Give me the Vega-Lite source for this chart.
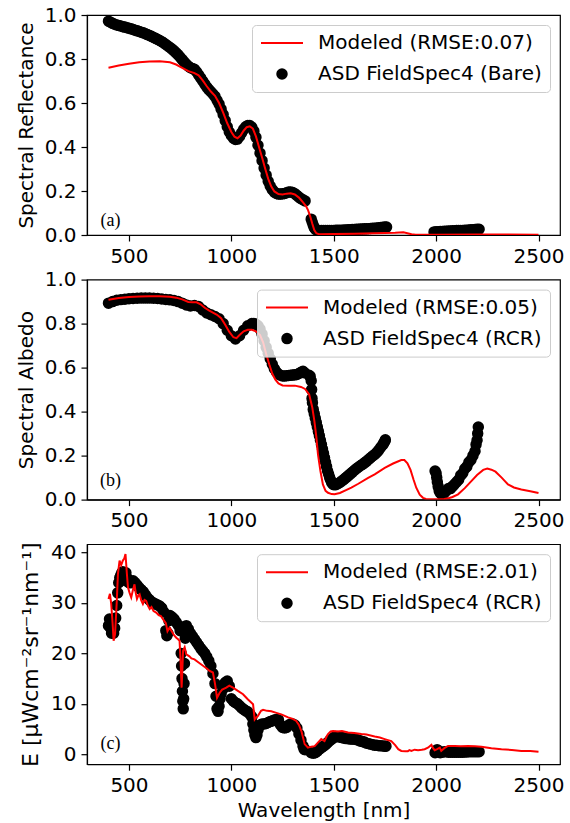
{
  "$schema": "https://vega.github.io/schema/vega-lite/v6.json",
  "padding": {"left": 15, "top": 4, "right": 5, "bottom": 5},
  "bounds": "flush",
  "spacing": 44.6,
  "config": {
    "font": "DejaVu Sans",
    "view": {"stroke": "black", "strokeWidth": 1.2},
    "axis": {
      "grid": false, "domainColor": "black", "domainWidth": 1.2,
      "tickColor": "black", "tickWidth": 1.2, "tickSize": 6,
      "labelFont": "DejaVu Sans", "labelFontSize": 20, "labelColor": "black", "labelPadding": 5,
      "labelFlush": false, "labelOverlap": false,
      "titleFont": "DejaVu Sans", "titleFontSize": 20, "titleFontWeight": "normal", "titleColor": "black", "titlePadding": 8
    },
    "legend": {
      "title": null, "orient": "top-right", "offset": 10,
      "labelFont": "DejaVu Sans", "labelFontSize": 20, "labelColor": "black", "labelLimit": 400,
      "padding": 8, "rowPadding": 11, "labelOffset": 14, "clipHeight": 20,
      "symbolStrokeWidth": 2, "symbolFillColor": "black",
      "fillColor": "rgba(255,255,255,0.8)", "strokeColor": "#cccccc", "cornerRadius": 4
    }
  },
  "datasets": {
    "obsA": [
      {"w":400,"v":0.972,"s":"o"},{"w":410,"v":0.967,"s":"o"},{"w":420,"v":0.962,"s":"o"},{"w":430,"v":0.958,"s":"o"},{"w":440,"v":0.955,"s":"o"},{"w":450,"v":0.952,"s":"o"},{"w":460,"v":0.950,"s":"o"},{"w":470,"v":0.947,"s":"o"},{"w":480,"v":0.945,"s":"o"},{"w":490,"v":0.942,"s":"o"},
      {"w":500,"v":0.940,"s":"o"},{"w":510,"v":0.937,"s":"o"},{"w":520,"v":0.934,"s":"o"},{"w":530,"v":0.931,"s":"o"},{"w":540,"v":0.928,"s":"o"},{"w":550,"v":0.925,"s":"o"},{"w":560,"v":0.922,"s":"o"},{"w":570,"v":0.919,"s":"o"},{"w":580,"v":0.915,"s":"o"},{"w":590,"v":0.911,"s":"o"},
      {"w":600,"v":0.907,"s":"o"},{"w":610,"v":0.903,"s":"o"},{"w":620,"v":0.898,"s":"o"},{"w":630,"v":0.894,"s":"o"},{"w":640,"v":0.889,"s":"o"},{"w":650,"v":0.884,"s":"o"},{"w":660,"v":0.879,"s":"o"},{"w":670,"v":0.873,"s":"o"},{"w":680,"v":0.866,"s":"o"},{"w":690,"v":0.859,"s":"o"},
      {"w":700,"v":0.852,"s":"o"},{"w":710,"v":0.845,"s":"o"},{"w":720,"v":0.837,"s":"o"},{"w":730,"v":0.828,"s":"o"},{"w":740,"v":0.819,"s":"o"},{"w":750,"v":0.808,"s":"o"},{"w":760,"v":0.797,"s":"o"},{"w":770,"v":0.786,"s":"o"},{"w":780,"v":0.776,"s":"o"},{"w":790,"v":0.767,"s":"o"},
      {"w":800,"v":0.760,"s":"o"},{"w":810,"v":0.757,"s":"o"},{"w":820,"v":0.753,"s":"o"},{"w":830,"v":0.742,"s":"o"},{"w":840,"v":0.728,"s":"o"},{"w":850,"v":0.714,"s":"o"},{"w":860,"v":0.700,"s":"o"},{"w":870,"v":0.686,"s":"o"},{"w":880,"v":0.672,"s":"o"},{"w":890,"v":0.661,"s":"o"},
      {"w":900,"v":0.651,"s":"o"},{"w":910,"v":0.641,"s":"o"},{"w":920,"v":0.630,"s":"o"},{"w":930,"v":0.612,"s":"o"},{"w":940,"v":0.595,"s":"o"},{"w":950,"v":0.572,"s":"o"},{"w":960,"v":0.548,"s":"o"},{"w":970,"v":0.520,"s":"o"},{"w":980,"v":0.492,"s":"o"},{"w":990,"v":0.468,"s":"o"},
      {"w":1000,"v":0.452,"s":"o"},{"w":1010,"v":0.440,"s":"o"},{"w":1020,"v":0.434,"s":"o"},{"w":1030,"v":0.436,"s":"o"},{"w":1040,"v":0.448,"s":"o"},{"w":1050,"v":0.464,"s":"o"},{"w":1060,"v":0.480,"s":"o"},{"w":1070,"v":0.492,"s":"o"},{"w":1080,"v":0.498,"s":"o"},{"w":1090,"v":0.498,"s":"o"},
      {"w":1100,"v":0.490,"s":"o"},{"w":1110,"v":0.472,"s":"o"},{"w":1120,"v":0.444,"s":"o"},{"w":1130,"v":0.408,"s":"o"},{"w":1140,"v":0.372,"s":"o"},{"w":1150,"v":0.338,"s":"o"},{"w":1160,"v":0.304,"s":"o"},{"w":1170,"v":0.272,"s":"o"},{"w":1180,"v":0.244,"s":"o"},{"w":1190,"v":0.222,"s":"o"},
      {"w":1200,"v":0.206,"s":"o"},{"w":1210,"v":0.195,"s":"o"},{"w":1220,"v":0.189,"s":"o"},{"w":1230,"v":0.186,"s":"o"},{"w":1240,"v":0.186,"s":"o"},{"w":1250,"v":0.187,"s":"o"},{"w":1260,"v":0.189,"s":"o"},{"w":1270,"v":0.192,"s":"o"},{"w":1280,"v":0.195,"s":"o"},{"w":1290,"v":0.196,"s":"o"},
      {"w":1300,"v":0.193,"s":"o"},{"w":1310,"v":0.188,"s":"o"},{"w":1320,"v":0.180,"s":"o"},{"w":1330,"v":0.172,"s":"o"},{"w":1340,"v":0.165,"s":"o"},{"w":1350,"v":0.160,"s":"o"},{"w":1360,"v":0.155,"s":"o"},
      {"w":1390,"v":0.072,"s":"o"},{"w":1395,"v":0.058,"s":"o"},{"w":1400,"v":0.044,"s":"o"},{"w":1405,"v":0.033,"s":"o"},{"w":1410,"v":0.026,"s":"o"},{"w":1420,"v":0.021,"s":"o"},{"w":1430,"v":0.020,"s":"o"},{"w":1440,"v":0.020,"s":"o"},{"w":1450,"v":0.020,"s":"o"},{"w":1460,"v":0.020,"s":"o"},
      {"w":1470,"v":0.021,"s":"o"},{"w":1480,"v":0.021,"s":"o"},{"w":1490,"v":0.021,"s":"o"},{"w":1500,"v":0.021,"s":"o"},{"w":1510,"v":0.022,"s":"o"},{"w":1520,"v":0.022,"s":"o"},{"w":1530,"v":0.022,"s":"o"},{"w":1540,"v":0.022,"s":"o"},{"w":1550,"v":0.023,"s":"o"},{"w":1560,"v":0.023,"s":"o"},
      {"w":1570,"v":0.024,"s":"o"},{"w":1580,"v":0.024,"s":"o"},{"w":1590,"v":0.025,"s":"o"},{"w":1600,"v":0.025,"s":"o"},{"w":1610,"v":0.026,"s":"o"},{"w":1620,"v":0.026,"s":"o"},{"w":1630,"v":0.027,"s":"o"},{"w":1640,"v":0.027,"s":"o"},{"w":1650,"v":0.028,"s":"o"},{"w":1660,"v":0.028,"s":"o"},
      {"w":1670,"v":0.029,"s":"o"},{"w":1680,"v":0.030,"s":"o"},{"w":1690,"v":0.031,"s":"o"},{"w":1700,"v":0.031,"s":"o"},{"w":1710,"v":0.032,"s":"o"},{"w":1720,"v":0.033,"s":"o"},{"w":1730,"v":0.034,"s":"o"},{"w":1740,"v":0.035,"s":"o"},{"w":1750,"v":0.036,"s":"o"},{"w":1758,"v":0.036,"s":"o"},
      {"w":1990,"v":0.014,"s":"o"},{"w":2000,"v":0.015,"s":"o"},{"w":2010,"v":0.015,"s":"o"},{"w":2020,"v":0.016,"s":"o"},{"w":2030,"v":0.016,"s":"o"},{"w":2040,"v":0.017,"s":"o"},{"w":2050,"v":0.017,"s":"o"},{"w":2060,"v":0.018,"s":"o"},{"w":2070,"v":0.018,"s":"o"},{"w":2080,"v":0.019,"s":"o"},
      {"w":2090,"v":0.019,"s":"o"},{"w":2100,"v":0.020,"s":"o"},{"w":2110,"v":0.020,"s":"o"},{"w":2120,"v":0.021,"s":"o"},{"w":2130,"v":0.021,"s":"o"},{"w":2140,"v":0.022,"s":"o"},{"w":2150,"v":0.022,"s":"o"},{"w":2160,"v":0.023,"s":"o"},{"w":2170,"v":0.024,"s":"o"},{"w":2180,"v":0.024,"s":"o"},
      {"w":2190,"v":0.025,"s":"o"},{"w":2200,"v":0.026,"s":"o"},{"w":2210,"v":0.026,"s":"o"}
    ],
    "modA": [
      {"w":400,"v":0.760,"s":"m"},{"w":450,"v":0.770,"s":"m"},{"w":500,"v":0.778,"s":"m"},{"w":550,"v":0.785,"s":"m"},{"w":600,"v":0.789,"s":"m"},{"w":650,"v":0.790,"s":"m"},{"w":700,"v":0.785,"s":"m"},{"w":730,"v":0.775,"s":"m"},{"w":760,"v":0.760,"s":"m"},{"w":790,"v":0.745,"s":"m"},
      {"w":820,"v":0.736,"s":"m"},{"w":840,"v":0.726,"s":"m"},{"w":860,"v":0.703,"s":"m"},{"w":880,"v":0.676,"s":"m"},{"w":900,"v":0.652,"s":"m"},{"w":920,"v":0.633,"s":"m"},{"w":940,"v":0.600,"s":"m"},{"w":960,"v":0.556,"s":"m"},{"w":980,"v":0.508,"s":"m"},{"w":1000,"v":0.468,"s":"m"},
      {"w":1015,"v":0.447,"s":"m"},{"w":1030,"v":0.440,"s":"m"},{"w":1045,"v":0.452,"s":"m"},{"w":1060,"v":0.474,"s":"m"},{"w":1075,"v":0.490,"s":"m"},{"w":1090,"v":0.494,"s":"m"},{"w":1105,"v":0.484,"s":"m"},{"w":1120,"v":0.448,"s":"m"},{"w":1135,"v":0.400,"s":"m"},{"w":1150,"v":0.352,"s":"m"},
      {"w":1165,"v":0.302,"s":"m"},{"w":1180,"v":0.255,"s":"m"},{"w":1195,"v":0.220,"s":"m"},{"w":1210,"v":0.198,"s":"m"},{"w":1230,"v":0.186,"s":"m"},{"w":1250,"v":0.184,"s":"m"},{"w":1270,"v":0.188,"s":"m"},{"w":1290,"v":0.190,"s":"m"},{"w":1310,"v":0.184,"s":"m"},{"w":1330,"v":0.170,"s":"m"},
      {"w":1350,"v":0.148,"s":"m"},{"w":1365,"v":0.130,"s":"m"},{"w":1375,"v":0.112,"s":"m"},{"w":1385,"v":0.085,"s":"m"},{"w":1395,"v":0.052,"s":"m"},{"w":1405,"v":0.022,"s":"m"},{"w":1415,"v":0.008,"s":"m"},{"w":1430,"v":0.003,"s":"m"},{"w":1500,"v":0.004,"s":"m"},{"w":1600,"v":0.006,"s":"m"},
      {"w":1700,"v":0.008,"s":"m"},{"w":1800,"v":0.010,"s":"m"},{"w":1840,"v":0.012,"s":"m"},{"w":1860,"v":0.008,"s":"m"},{"w":1880,"v":0.003,"s":"m"},{"w":1900,"v":0.001,"s":"m"},{"w":2000,"v":0.001,"s":"m"},{"w":2200,"v":0.002,"s":"m"},{"w":2350,"v":0.002,"s":"m"},{"w":2500,"v":0.001,"s":"m"}
    ],
    "obsB": [
      {"w":400,"v":0.893,"s":"o"},{"w":420,"v":0.900,"s":"o"},{"w":440,"v":0.906,"s":"o"},{"w":460,"v":0.909,"s":"o"},{"w":480,"v":0.911,"s":"o"},{"w":500,"v":0.913,"s":"o"},{"w":520,"v":0.914,"s":"o"},{"w":540,"v":0.915,"s":"o"},{"w":560,"v":0.916,"s":"o"},{"w":580,"v":0.916,"s":"o"},
      {"w":600,"v":0.916,"s":"o"},{"w":620,"v":0.915,"s":"o"},{"w":640,"v":0.914,"s":"o"},{"w":660,"v":0.912,"s":"o"},{"w":680,"v":0.910,"s":"o"},{"w":700,"v":0.908,"s":"o"},{"w":720,"v":0.905,"s":"o"},{"w":740,"v":0.900,"s":"o"},{"w":760,"v":0.893,"s":"o"},{"w":780,"v":0.885,"s":"o"},
      {"w":800,"v":0.880,"s":"o"},{"w":820,"v":0.882,"s":"o"},{"w":840,"v":0.878,"s":"o"},{"w":860,"v":0.862,"s":"o"},{"w":880,"v":0.848,"s":"o"},{"w":900,"v":0.840,"s":"o"},{"w":920,"v":0.832,"s":"o"},{"w":940,"v":0.822,"s":"o"},{"w":960,"v":0.800,"s":"o"},{"w":980,"v":0.770,"s":"o"},
      {"w":1000,"v":0.745,"s":"o"},{"w":1020,"v":0.730,"s":"o"},{"w":1040,"v":0.745,"s":"o"},{"w":1060,"v":0.770,"s":"o"},{"w":1080,"v":0.790,"s":"o"},{"w":1100,"v":0.800,"s":"o"},{"w":1110,"v":0.800,"s":"o"},{"w":1120,"v":0.797,"s":"o"},{"w":1130,"v":0.790,"s":"o"},{"w":1140,"v":0.775,"s":"o"},
      {"w":1150,"v":0.752,"s":"o"},{"w":1160,"v":0.722,"s":"o"},{"w":1170,"v":0.692,"s":"o"},{"w":1180,"v":0.665,"s":"o"},{"w":1190,"v":0.640,"s":"o"},{"w":1200,"v":0.615,"s":"o"},{"w":1210,"v":0.595,"s":"o"},{"w":1220,"v":0.580,"s":"o"},{"w":1230,"v":0.570,"s":"o"},{"w":1240,"v":0.565,"s":"o"},
      {"w":1250,"v":0.562,"s":"o"},{"w":1260,"v":0.562,"s":"o"},{"w":1270,"v":0.563,"s":"o"},{"w":1280,"v":0.564,"s":"o"},{"w":1290,"v":0.565,"s":"o"},{"w":1300,"v":0.566,"s":"o"},{"w":1310,"v":0.567,"s":"o"},{"w":1320,"v":0.569,"s":"o"},{"w":1330,"v":0.573,"s":"o"},{"w":1340,"v":0.579,"s":"o"},
      {"w":1350,"v":0.583,"s":"o"},{"w":1358,"v":0.576,"s":"o"},
      {"w":1380,"v":0.565,"s":"o"},{"w":1385,"v":0.56,"s":"o"},{"w":1390,"v":0.54,"s":"o"},{"w":1392,"v":0.50,"s":"o"},{"w":1394,"v":0.46,"s":"o"},{"w":1396,"v":0.44,"s":"o"},{"w":1400,"v":0.41,"s":"o"},{"w":1405,"v":0.39,"s":"o"},{"w":1410,"v":0.37,"s":"o"},{"w":1415,"v":0.35,"s":"o"},
      {"w":1420,"v":0.33,"s":"o"},{"w":1425,"v":0.31,"s":"o"},{"w":1430,"v":0.29,"s":"o"},{"w":1435,"v":0.27,"s":"o"},{"w":1440,"v":0.25,"s":"o"},{"w":1445,"v":0.23,"s":"o"},{"w":1450,"v":0.21,"s":"o"},{"w":1455,"v":0.19,"s":"o"},{"w":1460,"v":0.17,"s":"o"},{"w":1465,"v":0.15,"s":"o"},
      {"w":1470,"v":0.13,"s":"o"},{"w":1475,"v":0.115,"s":"o"},{"w":1480,"v":0.10,"s":"o"},{"w":1485,"v":0.088,"s":"o"},{"w":1490,"v":0.078,"s":"o"},{"w":1495,"v":0.071,"s":"o"},{"w":1500,"v":0.068,"s":"o"},{"w":1510,"v":0.068,"s":"o"},{"w":1520,"v":0.072,"s":"o"},{"w":1530,"v":0.078,"s":"o"},
      {"w":1540,"v":0.085,"s":"o"},{"w":1550,"v":0.092,"s":"o"},{"w":1560,"v":0.100,"s":"o"},{"w":1570,"v":0.108,"s":"o"},{"w":1580,"v":0.116,"s":"o"},{"w":1590,"v":0.124,"s":"o"},{"w":1600,"v":0.132,"s":"o"},{"w":1610,"v":0.140,"s":"o"},{"w":1620,"v":0.147,"s":"o"},{"w":1630,"v":0.154,"s":"o"},
      {"w":1640,"v":0.160,"s":"o"},{"w":1650,"v":0.167,"s":"o"},{"w":1660,"v":0.174,"s":"o"},{"w":1670,"v":0.182,"s":"o"},{"w":1680,"v":0.190,"s":"o"},{"w":1690,"v":0.198,"s":"o"},{"w":1700,"v":0.205,"s":"o"},{"w":1710,"v":0.214,"s":"o"},{"w":1720,"v":0.225,"s":"o"},{"w":1730,"v":0.238,"s":"o"},
      {"w":1740,"v":0.250,"s":"o"},{"w":1745,"v":0.258,"s":"o"},{"w":1750,"v":0.265,"s":"o"},{"w":1752,"v":0.272,"s":"o"},
      {"w":1995,"v":0.13,"s":"o"},{"w":2000,"v":0.12,"s":"o"},{"w":2003,"v":0.10,"s":"o"},{"w":2006,"v":0.08,"s":"o"},{"w":2010,"v":0.06,"s":"o"},{"w":2015,"v":0.04,"s":"o"},{"w":2020,"v":0.03,"s":"o"},{"w":2030,"v":0.02,"s":"o"},{"w":2040,"v":0.03,"s":"o"},{"w":2050,"v":0.04,"s":"o"},
      {"w":2060,"v":0.05,"s":"o"},{"w":2070,"v":0.05,"s":"o"},{"w":2080,"v":0.06,"s":"o"},{"w":2090,"v":0.07,"s":"o"},{"w":2100,"v":0.08,"s":"o"},{"w":2110,"v":0.09,"s":"o"},{"w":2120,"v":0.11,"s":"o"},{"w":2130,"v":0.12,"s":"o"},{"w":2140,"v":0.14,"s":"o"},{"w":2150,"v":0.15,"s":"o"},
      {"w":2160,"v":0.17,"s":"o"},{"w":2170,"v":0.18,"s":"o"},{"w":2180,"v":0.20,"s":"o"},{"w":2190,"v":0.22,"s":"o"},{"w":2195,"v":0.25,"s":"o"},{"w":2200,"v":0.27,"s":"o"},{"w":2203,"v":0.30,"s":"o"},{"w":2206,"v":0.33,"s":"o"}
    ],
    "modB": [
      {"w":400,"v":0.908,"s":"m"},{"w":450,"v":0.916,"s":"m"},{"w":500,"v":0.921,"s":"m"},{"w":550,"v":0.923,"s":"m"},{"w":600,"v":0.924,"s":"m"},{"w":650,"v":0.924,"s":"m"},{"w":700,"v":0.922,"s":"m"},{"w":730,"v":0.918,"s":"m"},{"w":760,"v":0.910,"s":"m"},{"w":790,"v":0.898,"s":"m"},
      {"w":810,"v":0.897,"s":"m"},{"w":830,"v":0.897,"s":"m"},{"w":850,"v":0.888,"s":"m"},{"w":870,"v":0.872,"s":"m"},{"w":890,"v":0.860,"s":"m"},{"w":910,"v":0.850,"s":"m"},{"w":930,"v":0.840,"s":"m"},{"w":950,"v":0.825,"s":"m"},{"w":970,"v":0.795,"s":"m"},{"w":990,"v":0.762,"s":"m"},
      {"w":1010,"v":0.738,"s":"m"},{"w":1025,"v":0.734,"s":"m"},{"w":1040,"v":0.748,"s":"m"},{"w":1060,"v":0.765,"s":"m"},{"w":1080,"v":0.772,"s":"m"},{"w":1100,"v":0.772,"s":"m"},{"w":1120,"v":0.765,"s":"m"},{"w":1140,"v":0.748,"s":"m"},{"w":1155,"v":0.715,"s":"m"},{"w":1170,"v":0.662,"s":"m"},
      {"w":1185,"v":0.615,"s":"m"},{"w":1200,"v":0.572,"s":"m"},{"w":1215,"v":0.545,"s":"m"},{"w":1230,"v":0.528,"s":"m"},{"w":1250,"v":0.519,"s":"m"},{"w":1280,"v":0.518,"s":"m"},{"w":1310,"v":0.518,"s":"m"},{"w":1340,"v":0.512,"s":"m"},{"w":1360,"v":0.503,"s":"m"},{"w":1380,"v":0.478,"s":"m"},
      {"w":1395,"v":0.420,"s":"m"},{"w":1405,"v":0.360,"s":"m"},{"w":1415,"v":0.285,"s":"m"},{"w":1423,"v":0.205,"s":"m"},{"w":1435,"v":0.130,"s":"m"},{"w":1447,"v":0.069,"s":"m"},{"w":1460,"v":0.040,"s":"m"},{"w":1472,"v":0.031,"s":"m"},{"w":1490,"v":0.025,"s":"m"},{"w":1504,"v":0.024,"s":"m"},
      {"w":1530,"v":0.030,"s":"m"},{"w":1560,"v":0.043,"s":"m"},{"w":1586,"v":0.054,"s":"m"},{"w":1620,"v":0.072,"s":"m"},{"w":1668,"v":0.099,"s":"m"},{"w":1700,"v":0.115,"s":"m"},{"w":1749,"v":0.144,"s":"m"},{"w":1790,"v":0.164,"s":"m"},{"w":1830,"v":0.180,"s":"m"},{"w":1845,"v":0.180,"s":"m"},
      {"w":1860,"v":0.165,"s":"m"},{"w":1875,"v":0.135,"s":"m"},{"w":1890,"v":0.090,"s":"m"},{"w":1903,"v":0.054,"s":"m"},{"w":1920,"v":0.022,"s":"m"},{"w":1936,"v":0.008,"s":"m"},{"w":1950,"v":0.003,"s":"m"},{"w":2000,"v":0.002,"s":"m"},{"w":2040,"v":0.003,"s":"m"},{"w":2060,"v":0.006,"s":"m"},
      {"w":2080,"v":0.012,"s":"m"},{"w":2107,"v":0.024,"s":"m"},{"w":2140,"v":0.052,"s":"m"},{"w":2172,"v":0.084,"s":"m"},{"w":2200,"v":0.112,"s":"m"},{"w":2230,"v":0.135,"s":"m"},{"w":2250,"v":0.141,"s":"m"},{"w":2270,"v":0.136,"s":"m"},{"w":2290,"v":0.127,"s":"m"},{"w":2320,"v":0.100,"s":"m"},
      {"w":2351,"v":0.069,"s":"m"},{"w":2380,"v":0.055,"s":"m"},{"w":2416,"v":0.046,"s":"m"},{"w":2460,"v":0.038,"s":"m"},{"w":2500,"v":0.030,"s":"m"}
    ],
    "obsC": [
      {"w":400,"v":25.5,"s":"o"},{"w":405,"v":26.8,"s":"o"},{"w":410,"v":25.0,"s":"o"},{"w":415,"v":24.0,"s":"o"},{"w":420,"v":25.0,"s":"o"},{"w":425,"v":24.0,"s":"o"},{"w":430,"v":25.0,"s":"o"},{"w":435,"v":27.0,"s":"o"},{"w":440,"v":29.5,"s":"o"},{"w":445,"v":32.0,"s":"o"},
      {"w":450,"v":34.0,"s":"o"},{"w":455,"v":35.0,"s":"o"},{"w":460,"v":35.5,"s":"o"},{"w":465,"v":36.0,"s":"o"},{"w":470,"v":36.2,"s":"o"},{"w":475,"v":35.5,"s":"o"},{"w":480,"v":34.5,"s":"o"},{"w":485,"v":36.0,"s":"o"},{"w":490,"v":35.0,"s":"o"},{"w":495,"v":34.2,"s":"o"},
      {"w":500,"v":34.0,"s":"o"},{"w":510,"v":34.0,"s":"o"},{"w":520,"v":34.4,"s":"o"},{"w":530,"v":34.0,"s":"o"},{"w":540,"v":33.5,"s":"o"},{"w":550,"v":33.0,"s":"o"},{"w":560,"v":32.6,"s":"o"},{"w":570,"v":32.2,"s":"o"},{"w":580,"v":31.6,"s":"o"},{"w":590,"v":31.0,"s":"o"},
      {"w":600,"v":30.6,"s":"o"},{"w":610,"v":30.2,"s":"o"},{"w":620,"v":30.0,"s":"o"},{"w":630,"v":29.8,"s":"o"},{"w":640,"v":29.6,"s":"o"},{"w":650,"v":29.4,"s":"o"},{"w":660,"v":29.0,"s":"o"},{"w":670,"v":28.2,"s":"o"},{"w":680,"v":24.5,"s":"o"},{"w":685,"v":23.5,"s":"o"},
      {"w":690,"v":24.0,"s":"o"},{"w":695,"v":26.5,"s":"o"},{"w":700,"v":27.5,"s":"o"},{"w":710,"v":27.2,"s":"o"},{"w":720,"v":26.8,"s":"o"},{"w":730,"v":26.2,"s":"o"},{"w":740,"v":25.6,"s":"o"},{"w":750,"v":24.5,"s":"o"},{"w":755,"v":20.0,"s":"o"},{"w":757,"v":17.5,"s":"o"},
      {"w":759,"v":15.0,"s":"o"},{"w":761,"v":12.5,"s":"o"},{"w":763,"v":10.5,"s":"o"},{"w":765,"v":9.0,"s":"o"},{"w":767,"v":11.0,"s":"o"},{"w":769,"v":14.0,"s":"o"},{"w":771,"v":18.0,"s":"o"},{"w":775,"v":23.0,"s":"o"},{"w":780,"v":25.5,"s":"o"},{"w":790,"v":24.8,"s":"o"},
      {"w":800,"v":24.0,"s":"o"},{"w":810,"v":23.4,"s":"o"},{"w":820,"v":22.8,"s":"o"},{"w":830,"v":22.2,"s":"o"},{"w":840,"v":21.6,"s":"o"},{"w":850,"v":21.0,"s":"o"},{"w":860,"v":20.5,"s":"o"},{"w":870,"v":20.0,"s":"o"},{"w":880,"v":19.3,"s":"o"},{"w":890,"v":18.5,"s":"o"},
      {"w":900,"v":17.5,"s":"o"},{"w":910,"v":16.0,"s":"o"},{"w":920,"v":14.0,"s":"o"},{"w":925,"v":11.5,"s":"o"},{"w":930,"v":9.0,"s":"o"},{"w":935,"v":8.5,"s":"o"},{"w":940,"v":9.5,"s":"o"},{"w":945,"v":11.0,"s":"o"},{"w":950,"v":12.0,"s":"o"},{"w":960,"v":13.0,"s":"o"},
      {"w":970,"v":14.2,"s":"o"},{"w":980,"v":14.5,"s":"o"},{"w":990,"v":13.5,"s":"o"},{"w":1000,"v":11.0,"s":"o"},{"w":1010,"v":10.5,"s":"o"},{"w":1020,"v":10.2,"s":"o"},{"w":1030,"v":10.0,"s":"o"},{"w":1040,"v":9.6,"s":"o"},{"w":1050,"v":9.2,"s":"o"},{"w":1060,"v":8.9,"s":"o"},
      {"w":1070,"v":8.6,"s":"o"},{"w":1080,"v":8.4,"s":"o"},{"w":1090,"v":8.0,"s":"o"},{"w":1100,"v":7.4,"s":"o"},{"w":1105,"v":6.0,"s":"o"},{"w":1110,"v":4.8,"s":"o"},{"w":1115,"v":3.8,"s":"o"},{"w":1120,"v":3.3,"s":"o"},{"w":1125,"v":3.8,"s":"o"},{"w":1130,"v":4.8,"s":"o"},
      {"w":1135,"v":5.5,"s":"o"},{"w":1140,"v":5.8,"s":"o"},{"w":1150,"v":6.0,"s":"o"},{"w":1160,"v":6.0,"s":"o"},{"w":1170,"v":6.1,"s":"o"},{"w":1180,"v":6.3,"s":"o"},{"w":1190,"v":6.5,"s":"o"},{"w":1200,"v":6.6,"s":"o"},{"w":1210,"v":6.8,"s":"o"},{"w":1220,"v":6.9,"s":"o"},
      {"w":1230,"v":6.8,"s":"o"},{"w":1240,"v":5.8,"s":"o"},{"w":1250,"v":5.3,"s":"o"},{"w":1260,"v":5.2,"s":"o"},{"w":1270,"v":5.3,"s":"o"},{"w":1280,"v":5.8,"s":"o"},{"w":1290,"v":6.0,"s":"o"},{"w":1300,"v":6.0,"s":"o"},{"w":1310,"v":5.8,"s":"o"},{"w":1320,"v":5.2,"s":"o"},
      {"w":1330,"v":4.0,"s":"o"},{"w":1340,"v":2.8,"s":"o"},{"w":1350,"v":1.6,"s":"o"},{"w":1355,"v":1.0,"s":"o"},{"w":1360,"v":0.9,"s":"o"},
      {"w":1390,"v":0.3,"s":"o"},{"w":1400,"v":0.2,"s":"o"},{"w":1410,"v":0.3,"s":"o"},{"w":1420,"v":0.6,"s":"o"},{"w":1430,"v":1.0,"s":"o"},{"w":1440,"v":1.3,"s":"o"},{"w":1450,"v":1.6,"s":"o"},{"w":1460,"v":1.9,"s":"o"},{"w":1470,"v":2.3,"s":"o"},{"w":1480,"v":2.7,"s":"o"},
      {"w":1490,"v":3.0,"s":"o"},{"w":1500,"v":3.3,"s":"o"},{"w":1510,"v":3.5,"s":"o"},{"w":1520,"v":3.5,"s":"o"},{"w":1530,"v":3.4,"s":"o"},{"w":1540,"v":3.3,"s":"o"},{"w":1550,"v":3.2,"s":"o"},{"w":1560,"v":3.1,"s":"o"},{"w":1570,"v":3.1,"s":"o"},{"w":1580,"v":3.0,"s":"o"},
      {"w":1590,"v":3.0,"s":"o"},{"w":1600,"v":3.0,"s":"o"},{"w":1610,"v":2.9,"s":"o"},{"w":1620,"v":2.8,"s":"o"},{"w":1630,"v":2.6,"s":"o"},{"w":1640,"v":2.5,"s":"o"},{"w":1650,"v":2.4,"s":"o"},{"w":1660,"v":2.2,"s":"o"},{"w":1670,"v":2.1,"s":"o"},{"w":1680,"v":2.0,"s":"o"},
      {"w":1690,"v":1.9,"s":"o"},{"w":1700,"v":1.8,"s":"o"},{"w":1710,"v":1.8,"s":"o"},{"w":1720,"v":1.7,"s":"o"},{"w":1730,"v":1.7,"s":"o"},{"w":1740,"v":1.65,"s":"o"},{"w":1750,"v":1.6,"s":"o"},{"w":1755,"v":1.6,"s":"o"},
      {"w":1995,"v":0.3,"s":"o"},{"w":2000,"v":0.6,"s":"o"},{"w":2005,"v":0.9,"s":"o"},{"w":2010,"v":0.5,"s":"o"},{"w":2020,"v":0.3,"s":"o"},{"w":2030,"v":0.4,"s":"o"},{"w":2040,"v":0.5,"s":"o"},{"w":2050,"v":0.5,"s":"o"},{"w":2060,"v":0.4,"s":"o"},{"w":2070,"v":0.4,"s":"o"},
      {"w":2080,"v":0.4,"s":"o"},{"w":2090,"v":0.4,"s":"o"},{"w":2100,"v":0.4,"s":"o"},{"w":2110,"v":0.4,"s":"o"},{"w":2120,"v":0.4,"s":"o"},{"w":2130,"v":0.4,"s":"o"},{"w":2140,"v":0.45,"s":"o"},{"w":2150,"v":0.45,"s":"o"},{"w":2160,"v":0.5,"s":"o"},{"w":2170,"v":0.5,"s":"o"},
      {"w":2180,"v":0.5,"s":"o"},{"w":2190,"v":0.5,"s":"o"},{"w":2200,"v":0.5,"s":"o"},{"w":2210,"v":0.5,"s":"o"}
    ],
    "modC": [
      {"w":400,"v":30.8,"s":"m"},{"w":407,"v":31.8,"s":"m"},{"w":413,"v":29.9,"s":"m"},{"w":420,"v":26.0,"s":"m"},{"w":425,"v":22.5,"s":"m"},{"w":432,"v":23.8,"s":"m"},{"w":440,"v":30.0,"s":"m"},{"w":446,"v":35.7,"s":"m"},{"w":454,"v":38.4,"s":"m"},{"w":462,"v":37.5,"s":"m"},
      {"w":470,"v":38.4,"s":"m"},{"w":477,"v":38.8,"s":"m"},{"w":483,"v":39.7,"s":"m"},{"w":490,"v":35.7,"s":"m"},{"w":495,"v":33.1,"s":"m"},{"w":503,"v":32.0,"s":"m"},{"w":511,"v":31.1,"s":"m"},{"w":519,"v":32.5,"s":"m"},{"w":527,"v":33.7,"s":"m"},{"w":533,"v":32.0,"s":"m"},
      {"w":539,"v":30.8,"s":"m"},{"w":546,"v":31.5,"s":"m"},{"w":552,"v":31.7,"s":"m"},{"w":560,"v":30.5,"s":"m"},{"w":568,"v":29.8,"s":"m"},{"w":576,"v":30.6,"s":"m"},{"w":584,"v":30.4,"s":"m"},{"w":592,"v":29.5,"s":"m"},{"w":601,"v":28.8,"s":"m"},{"w":610,"v":29.2,"s":"m"},
      {"w":620,"v":28.4,"s":"m"},{"w":633,"v":28.1,"s":"m"},{"w":645,"v":27.6,"s":"m"},{"w":656,"v":27.4,"s":"m"},{"w":666,"v":26.8,"s":"m"},{"w":680,"v":26.0,"s":"m"},{"w":688,"v":24.4,"s":"m"},{"w":698,"v":25.1,"s":"m"},{"w":710,"v":24.3,"s":"m"},{"w":720,"v":23.6,"s":"m"},
      {"w":731,"v":23.1,"s":"m"},{"w":740,"v":22.8,"s":"m"},{"w":747,"v":22.5,"s":"m"},{"w":752,"v":18.5,"s":"m"},{"w":757,"v":13.2,"s":"m"},{"w":760,"v":16.0,"s":"m"},{"w":764,"v":20.5,"s":"m"},{"w":772,"v":21.2,"s":"m"},{"w":780,"v":19.8,"s":"m"},{"w":795,"v":19.4,"s":"m"},
      {"w":805,"v":19.0,"s":"m"},{"w":820,"v":18.8,"s":"m"},{"w":840,"v":18.2,"s":"m"},{"w":860,"v":17.6,"s":"m"},{"w":880,"v":17.0,"s":"m"},{"w":894,"v":16.5,"s":"m"},{"w":910,"v":16.2,"s":"m"},{"w":920,"v":14.0,"s":"m"},{"w":930,"v":11.2,"s":"m"},{"w":943,"v":12.2,"s":"m"},
      {"w":955,"v":12.8,"s":"m"},{"w":975,"v":13.2,"s":"m"},{"w":990,"v":13.6,"s":"m"},{"w":1008,"v":13.2,"s":"m"},{"w":1030,"v":12.6,"s":"m"},{"w":1057,"v":11.9,"s":"m"},{"w":1080,"v":10.9,"s":"m"},{"w":1106,"v":9.9,"s":"m"},{"w":1114,"v":6.9,"s":"m"},{"w":1122,"v":7.3,"s":"m"},
      {"w":1130,"v":7.6,"s":"m"},{"w":1145,"v":8.6,"s":"m"},{"w":1155,"v":8.8,"s":"m"},{"w":1175,"v":8.6,"s":"m"},{"w":1195,"v":8.5,"s":"m"},{"w":1220,"v":8.2,"s":"m"},{"w":1244,"v":7.9,"s":"m"},{"w":1277,"v":7.3,"s":"m"},{"w":1300,"v":7.0,"s":"m"},{"w":1317,"v":6.6,"s":"m"},
      {"w":1330,"v":5.8,"s":"m"},{"w":1342,"v":4.6,"s":"m"},{"w":1358,"v":2.0,"s":"m"},{"w":1374,"v":1.3,"s":"m"},{"w":1390,"v":1.5,"s":"m"},{"w":1407,"v":1.6,"s":"m"},{"w":1425,"v":2.4,"s":"m"},{"w":1439,"v":3.0,"s":"m"},{"w":1455,"v":2.6,"s":"m"},{"w":1465,"v":3.5,"s":"m"},
      {"w":1472,"v":4.0,"s":"m"},{"w":1485,"v":4.5,"s":"m"},{"w":1497,"v":4.6,"s":"m"},{"w":1520,"v":4.5,"s":"m"},{"w":1540,"v":4.6,"s":"m"},{"w":1570,"v":4.3,"s":"m"},{"w":1600,"v":4.2,"s":"m"},{"w":1635,"v":4.0,"s":"m"},{"w":1660,"v":3.9,"s":"m"},{"w":1700,"v":3.5,"s":"m"},
      {"w":1725,"v":3.3,"s":"m"},{"w":1749,"v":3.0,"s":"m"},{"w":1765,"v":2.8,"s":"m"},{"w":1781,"v":2.6,"s":"m"},{"w":1800,"v":1.8,"s":"m"},{"w":1815,"v":1.0,"s":"m"},{"w":1830,"v":0.65,"s":"m"},{"w":1850,"v":0.6,"s":"m"},{"w":1862,"v":0.6,"s":"m"},{"w":1870,"v":0.8,"s":"m"},
      {"w":1879,"v":0.65,"s":"m"},{"w":1895,"v":0.9,"s":"m"},{"w":1912,"v":0.8,"s":"m"},{"w":1930,"v":0.9,"s":"m"},{"w":1944,"v":1.0,"s":"m"},{"w":1960,"v":1.3,"s":"m"},{"w":1977,"v":1.85,"s":"m"},{"w":1985,"v":1.2,"s":"m"},{"w":1993,"v":0.8,"s":"m"},{"w":2005,"v":1.0,"s":"m"},
      {"w":2018,"v":1.3,"s":"m"},{"w":2025,"v":0.65,"s":"m"},{"w":2040,"v":1.2,"s":"m"},{"w":2058,"v":1.65,"s":"m"},{"w":2091,"v":1.65,"s":"m"},{"w":2120,"v":1.6,"s":"m"},{"w":2156,"v":1.65,"s":"m"},{"w":2190,"v":1.6,"s":"m"},{"w":2221,"v":1.5,"s":"m"},{"w":2270,"v":1.2,"s":"m"},
      {"w":2319,"v":1.0,"s":"m"},{"w":2370,"v":0.85,"s":"m"},{"w":2416,"v":0.65,"s":"m"},{"w":2460,"v":0.65,"s":"m"},{"w":2500,"v":0.5,"s":"m"}
    ],
    "tagA": [{"w":410,"v":0.065,"t":"(a)"}],
    "tagB": [{"w":410,"v":0.084,"t":"(b)"}],
    "tagC": [{"w":410,"v":2.1,"t":"(c)"}]
  },
  "resolve": {
    "scale": {"color": "independent", "shape": "independent", "size": "independent"},
    "legend": {"color": "independent", "shape": "independent", "size": "independent"}
  },
  "vconcat": [
    {
      "width": 473, "height": 220,
      "encoding": {
        "x": {"field": "w", "type": "quantitative", "scale": {"domain": [295, 2605], "nice": false, "zero": false},
              "axis": {"title": null, "values": [500, 1000, 1500, 2000, 2500], "format": "d"}},
        "y": {"field": "v", "type": "quantitative", "scale": {"domain": [0, 1], "nice": false, "zero": false},
              "axis": {"title": "Spectral Reflectance", "values": [0, 0.2, 0.4, 0.6, 0.8, 1.0], "format": ".1f"}}
      },
      "layer": [
        {"data": {"name": "obsA"}, "mark": {"type": "point", "filled": false, "fill": "black", "strokeWidth": 2, "opacity": 1, "clip": true},
         "encoding": {
           "color": {"field": "s", "type": "nominal", "scale": {"domain": ["m", "o"], "range": ["#ff0000", "#000000"]},
             "legend": {"labelExpr": "datum.value == 'm' ? 'Modeled (RMSE:0.07)' : 'ASD FieldSpec4 (Bare)'"}},
           "shape": {"field": "s", "type": "nominal", "scale": {"domain": ["m", "o"], "range": ["stroke", "circle"]},
             "legend": {"labelExpr": "datum.value == 'm' ? 'Modeled (RMSE:0.07)' : 'ASD FieldSpec4 (Bare)'"}},
           "size": {"field": "s", "type": "nominal", "scale": {"type": "point", "padding": 0, "domain": ["m", "o"], "range": [1764, 90]},
             "legend": {"labelExpr": "datum.value == 'm' ? 'Modeled (RMSE:0.07)' : 'ASD FieldSpec4 (Bare)'"}}}},
        {"data": {"name": "modA"}, "mark": {"type": "line", "strokeWidth": 2, "clip": true},
         "encoding": {"color": {"field": "s", "type": "nominal", "legend": null}}},
        {"data": {"name": "tagA"}, "mark": {"type": "text", "font": "Liberation Serif", "fontSize": 18, "color": "black", "align": "center", "baseline": "middle"},
         "encoding": {"text": {"field": "t"}}}
      ]
    },
    {
      "width": 473, "height": 220,
      "encoding": {
        "x": {"field": "w", "type": "quantitative", "scale": {"domain": [295, 2605], "nice": false, "zero": false},
              "axis": {"title": null, "values": [500, 1000, 1500, 2000, 2500], "format": "d"}},
        "y": {"field": "v", "type": "quantitative", "scale": {"domain": [0, 1], "nice": false, "zero": false},
              "axis": {"title": "Spectral Albedo", "values": [0, 0.2, 0.4, 0.6, 0.8, 1.0], "format": ".1f"}}
      },
      "layer": [
        {"data": {"name": "obsB"}, "mark": {"type": "point", "filled": false, "fill": "black", "strokeWidth": 2, "opacity": 1, "clip": true},
         "encoding": {
           "color": {"field": "s", "type": "nominal", "scale": {"domain": ["m", "o"], "range": ["#ff0000", "#000000"]},
             "legend": {"labelExpr": "datum.value == 'm' ? 'Modeled (RMSE:0.05)' : 'ASD FieldSpec4 (RCR)'"}},
           "shape": {"field": "s", "type": "nominal", "scale": {"domain": ["m", "o"], "range": ["stroke", "circle"]},
             "legend": {"labelExpr": "datum.value == 'm' ? 'Modeled (RMSE:0.05)' : 'ASD FieldSpec4 (RCR)'"}},
           "size": {"field": "s", "type": "nominal", "scale": {"type": "point", "padding": 0, "domain": ["m", "o"], "range": [1764, 90]},
             "legend": {"labelExpr": "datum.value == 'm' ? 'Modeled (RMSE:0.05)' : 'ASD FieldSpec4 (RCR)'"}}}},
        {"data": {"name": "modB"}, "mark": {"type": "line", "strokeWidth": 2, "clip": true},
         "encoding": {"color": {"field": "s", "type": "nominal", "legend": null}}},
        {"data": {"name": "tagB"}, "mark": {"type": "text", "font": "Liberation Serif", "fontSize": 18, "color": "black", "align": "center", "baseline": "middle"},
         "encoding": {"text": {"field": "t"}}}
      ]
    },
    {
      "width": 473, "height": 220,
      "encoding": {
        "x": {"field": "w", "type": "quantitative", "scale": {"domain": [295, 2605], "nice": false, "zero": false},
              "axis": {"title": "Wavelength [nm]", "titlePadding": 5, "values": [500, 1000, 1500, 2000, 2500], "format": "d"}},
        "y": {"field": "v", "type": "quantitative", "scale": {"domain": [-1.98, 41.65], "nice": false, "zero": false},
              "axis": {"title": "E [μWcm⁻²sr⁻¹nm⁻¹]", "titleFontSize": 22, "values": [0, 10, 20, 30, 40]}}
      },
      "layer": [
        {"data": {"name": "obsC"}, "mark": {"type": "point", "filled": false, "fill": "black", "strokeWidth": 2, "opacity": 1, "clip": true},
         "encoding": {
           "color": {"field": "s", "type": "nominal", "scale": {"domain": ["m", "o"], "range": ["#ff0000", "#000000"]},
             "legend": {"labelExpr": "datum.value == 'm' ? 'Modeled (RMSE:2.01)' : 'ASD FieldSpec4 (RCR)'"}},
           "shape": {"field": "s", "type": "nominal", "scale": {"domain": ["m", "o"], "range": ["stroke", "circle"]},
             "legend": {"labelExpr": "datum.value == 'm' ? 'Modeled (RMSE:2.01)' : 'ASD FieldSpec4 (RCR)'"}},
           "size": {"field": "s", "type": "nominal", "scale": {"type": "point", "padding": 0, "domain": ["m", "o"], "range": [1764, 90]},
             "legend": {"labelExpr": "datum.value == 'm' ? 'Modeled (RMSE:2.01)' : 'ASD FieldSpec4 (RCR)'"}}}},
        {"data": {"name": "modC"}, "mark": {"type": "line", "strokeWidth": 2, "clip": true},
         "encoding": {"color": {"field": "s", "type": "nominal", "legend": null}}},
        {"data": {"name": "tagC"}, "mark": {"type": "text", "font": "Liberation Serif", "fontSize": 18, "color": "black", "align": "center", "baseline": "middle"},
         "encoding": {"text": {"field": "t"}}}
      ]
    }
  ]
}
